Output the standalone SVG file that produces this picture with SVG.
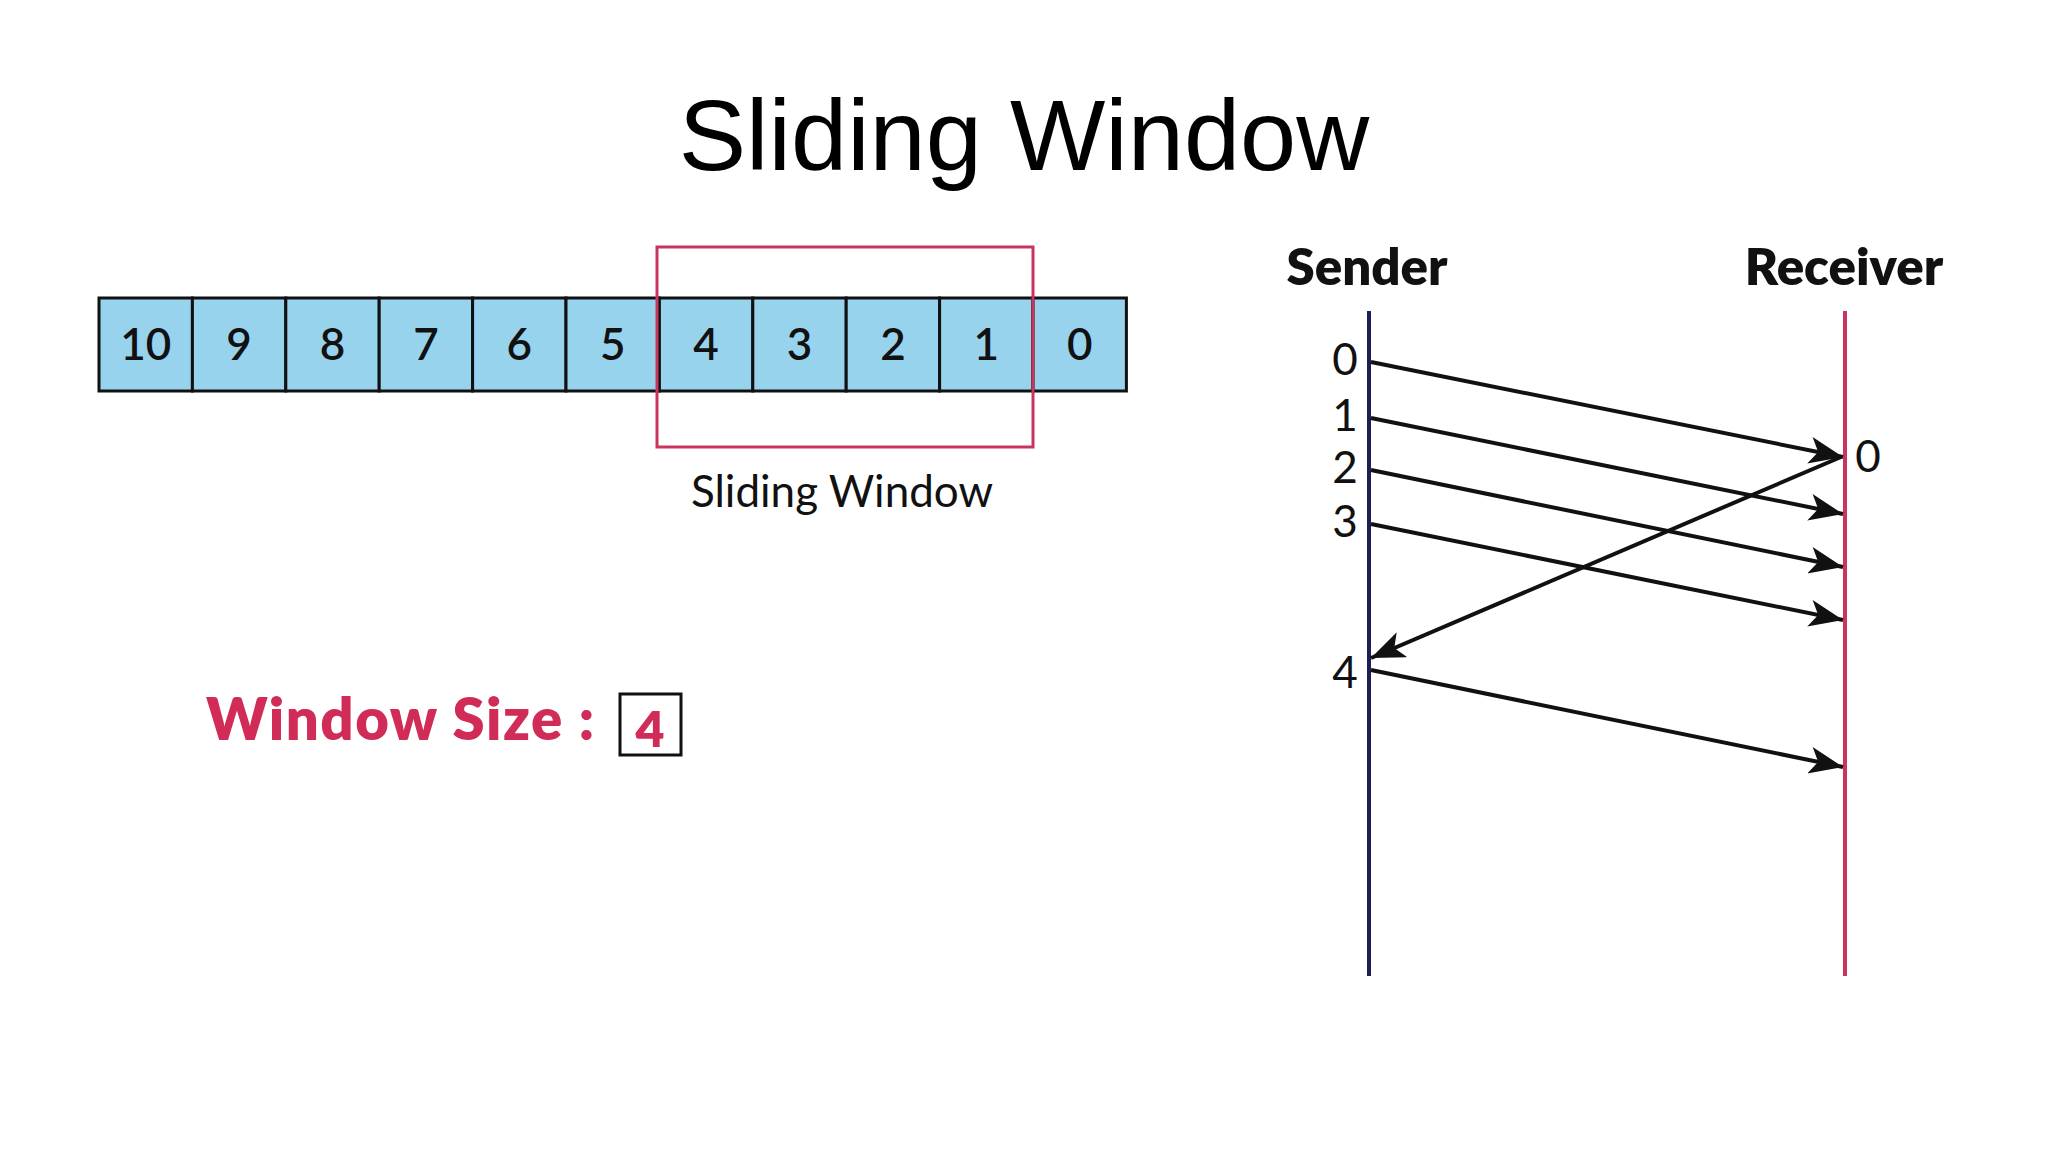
<svg xmlns="http://www.w3.org/2000/svg" width="2048" height="1152" viewBox="0 0 2048 1152">
<style>
.cell{fill:#98d3ee;stroke:#111;stroke-width:3}
.num{font-family:Lato,"Liberation Sans",sans-serif;font-size:44px;font-weight:600;fill:#111;text-anchor:middle}
.lbl{font-family:Lato,"Liberation Sans",sans-serif;font-size:44px;fill:#111}
.hdr{font-family:Lato,"Liberation Sans",sans-serif;font-size:51px;font-weight:800;fill:#111;text-anchor:middle}
.arr{stroke:#111;stroke-width:4;fill:none;marker-end:url(#ah)}
</style>
<defs><marker id="ah" viewBox="0 0 10 8" refX="10" refY="4" markerWidth="34" markerHeight="27" markerUnits="userSpaceOnUse" orient="auto"><path d="M0,0 L10,4 L0,8 L2.5,4 z" fill="#111"/></marker></defs>
<rect width="2048" height="1152" fill="#fff"/>
<text x="1024" y="170" font-family="Liberation Sans,Arial,sans-serif" font-size="101" text-anchor="middle" fill="#000">Sliding Window</text>
<g id="array">
<rect class="cell" x="99" y="298" width="93.4" height="93"/><text class="num" x="145.7" y="360">10</text>
<rect class="cell" x="192.4" y="298" width="93.4" height="93"/><text class="num" x="239.1" y="360">9</text>
<rect class="cell" x="285.8" y="298" width="93.4" height="93"/><text class="num" x="332.5" y="360">8</text>
<rect class="cell" x="379.2" y="298" width="93.4" height="93"/><text class="num" x="425.9" y="360">7</text>
<rect class="cell" x="472.6" y="298" width="93.4" height="93"/><text class="num" x="519.3" y="360">6</text>
<rect class="cell" x="566" y="298" width="93.4" height="93"/><text class="num" x="612.7" y="360">5</text>
<rect class="cell" x="659.4" y="298" width="93.4" height="93"/><text class="num" x="706.1" y="360">4</text>
<rect class="cell" x="752.8" y="298" width="93.4" height="93"/><text class="num" x="799.5" y="360">3</text>
<rect class="cell" x="846.2" y="298" width="93.4" height="93"/><text class="num" x="892.9" y="360">2</text>
<rect class="cell" x="939.6" y="298" width="93.4" height="93"/><text class="num" x="986.3" y="360">1</text>
<rect class="cell" x="1033" y="298" width="93.4" height="93"/><text class="num" x="1079.7" y="360">0</text>
</g>
<g id="window">
<rect x="657" y="247" width="376" height="200" fill="none" stroke="#c8365f" stroke-width="3"/>
<text class="lbl" x="842" y="507" text-anchor="middle" font-size="57">Sliding Window</text>
</g>
<g id="winsize">
<text x="206" y="740" font-family="Lato,'Liberation Sans',sans-serif" font-size="58" font-weight="800" fill="#d02c57" textLength="388">Window Size :</text>
<rect x="620" y="694" width="61" height="61" fill="none" stroke="#111" stroke-width="3"/>
<text x="650" y="747" font-family="Lato,'Liberation Sans',sans-serif" font-size="50" font-weight="800" fill="#d02c57" text-anchor="middle">4</text>
</g>
<g id="sender">
<text class="hdr" x="1367" y="285">Sender</text>
<line x1="1369" y1="311" x2="1369" y2="976" stroke="#1c1f5a" stroke-width="4"/>
<text class="lbl" x="1345" y="375" text-anchor="middle">0</text>
<text class="lbl" x="1345" y="431" text-anchor="middle">1</text>
<text class="lbl" x="1345" y="483" text-anchor="middle">2</text>
<text class="lbl" x="1345" y="537" text-anchor="middle">3</text>
<text class="lbl" x="1345" y="688" text-anchor="middle">4</text>
</g>
<g id="receiver">
<text class="hdr" x="1844" y="285">Receiver</text>
<line x1="1845" y1="311" x2="1845" y2="976" stroke="#c8365f" stroke-width="4"/>
<text class="lbl" x="1868" y="472" text-anchor="middle">0</text>
</g>
<g id="connectors">
<line class="arr" x1="1371" y1="362" x2="1843" y2="457"/>
<line class="arr" x1="1371" y1="418" x2="1843" y2="514"/>
<line class="arr" x1="1371" y1="470" x2="1843" y2="567"/>
<line class="arr" x1="1371" y1="524" x2="1843" y2="620"/>
<line class="arr" x1="1841" y1="457" x2="1371" y2="658"/>
<line class="arr" x1="1371" y1="670" x2="1843" y2="767"/>
</g>
</svg>
